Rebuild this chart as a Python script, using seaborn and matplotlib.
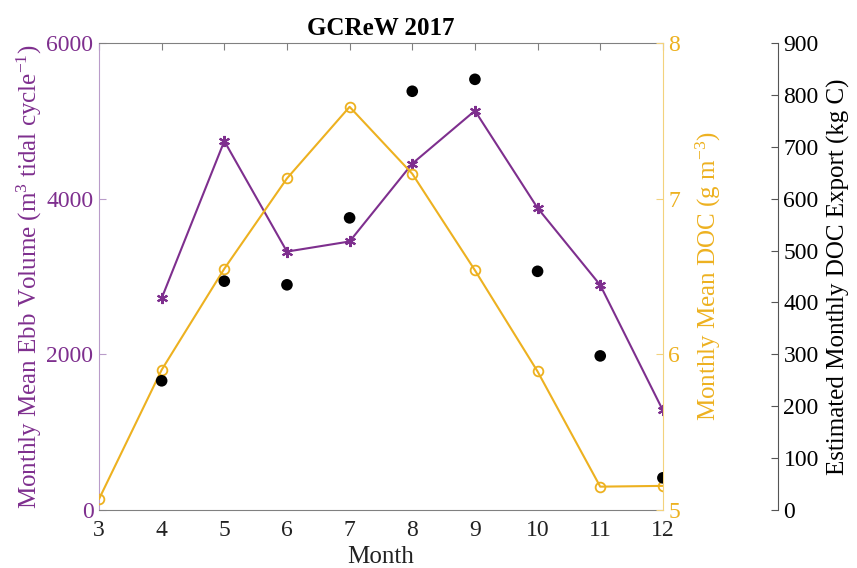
import seaborn as sns
import matplotlib.pyplot as plt
import pandas as pd

# values
ebb_months = [4, 5, 6, 7, 8, 9, 10, 11, 12]
ebb_volume = [2720, 4740, 3320, 3450, 4450, 5130, 3880, 2890, 1280]

doc_months = [3, 4, 5, 6, 7, 8, 9, 10, 11, 12]
doc_conc = [5.07, 5.90, 6.55, 7.13, 7.59, 7.16, 6.54, 5.89, 5.15, 5.155]

exp_months = [4, 5, 6, 7, 8, 9, 10, 11, 12]
doc_export = [249, 441, 434, 563, 807, 830, 460, 297, 62]

purple = '#7E2F8E'
yellow = '#EDB120'

ebb = pd.DataFrame({'Month': ebb_months, 'Ebb': ebb_volume})
doc = pd.DataFrame({'Month': doc_months, 'DOC': doc_conc})
exp = pd.DataFrame({'Month': exp_months, 'Export': doc_export})

sns.set_style('white')
plt.rcParams['font.family'] = ['Liberation Serif', 'DejaVu Serif']
plt.rcParams['mathtext.fontset'] = 'custom'
plt.rcParams['mathtext.rm'] = 'Liberation Serif'
plt.rcParams['mathtext.it'] = 'Liberation Serif:italic'
plt.rcParams['font.size'] = 17
plt.rcParams['text.color'] = 'black'

fig = plt.figure(figsize=(8.57, 5.68), dpi=100)
ax = fig.add_axes([0.1155, 0.1021, 0.658, 0.8222])
ax2 = ax.twinx()
ax3 = ax.twinx()

# purple: ebb volume
sns.lineplot(data=ebb, x='Month', y='Ebb', ax=ax, color=purple, lw=1.5,
             marker=(6, 2, 0), markersize=8, markeredgecolor=purple,
             markeredgewidth=1.5)
# yellow: DOC concentration
sns.lineplot(data=doc, x='Month', y='DOC', ax=ax2, color=yellow, lw=1.5,
             marker='o', markersize=7, markerfacecolor='none',
             markeredgecolor=yellow, markeredgewidth=1.3)
# black: DOC export
sns.scatterplot(data=exp, x='Month', y='Export', ax=ax3, color='black',
                s=70, edgecolor='none')

ax.set_xlim(3, 12)
ax.set_ylim(0, 6000)
ax.set_yticks([0, 2000, 4000, 6000])
ax.set_xticks(range(3, 13))
ax2.set_ylim(5, 8)
ax2.set_yticks([5, 6, 7, 8])
ax3.set_ylim(0, 900)
ax3.set_yticks(range(0, 901, 100))

ax.set_xlabel('Month', fontsize=18, labelpad=4, color='#222222')
ax.set_ylabel('Monthly Mean Ebb Volume (m$^3$ tidal cycle$^{-1}$)',
              color=purple, fontsize=18, labelpad=2)
ax2.set_ylabel('Monthly Mean DOC (g m$^{-3}$)', color=yellow, fontsize=18,
               labelpad=10)
ax3.set_ylabel('Estimated Monthly DOC Export (kg C)', color='black',
               fontsize=18, labelpad=6)
ax.set_title('GCReW 2017', fontsize=18, fontweight='bold', pad=6,
             color='black')

# spines and ticks, MATLAB-like
for s in ['top', 'bottom']:
    ax.spines[s].set_color('#808080')
ax.spines['left'].set_color('#b99cc9')
ax.spines['right'].set_visible(False)
for s in ['left', 'top', 'bottom']:
    ax2.spines[s].set_visible(False)
    ax3.spines[s].set_visible(False)
ax2.spines['right'].set_color('#f3d27d')
ax3.spines['right'].set_position(('axes', 1.204))
ax3.spines['right'].set_color('#555555')

ax.tick_params(axis='x', direction='in', top=True, length=5,
               color='#808080', labelcolor='#222222', pad=7)
ax.tick_params(axis='y', direction='in', length=5, color='#b99cc9',
               labelcolor=purple, pad=4)
ax2.tick_params(axis='y', direction='in', length=5, color='#f3d27d',
                labelcolor=yellow, pad=4)
ax3.tick_params(axis='y', direction='in', length=5, color='#555555',
                labelcolor='black', pad=4)
for a in (ax, ax2, ax3):
    a.grid(False)
ax2.set_xlabel('')
ax3.set_xlabel('')

fig.savefig('out.png', dpi=100)
